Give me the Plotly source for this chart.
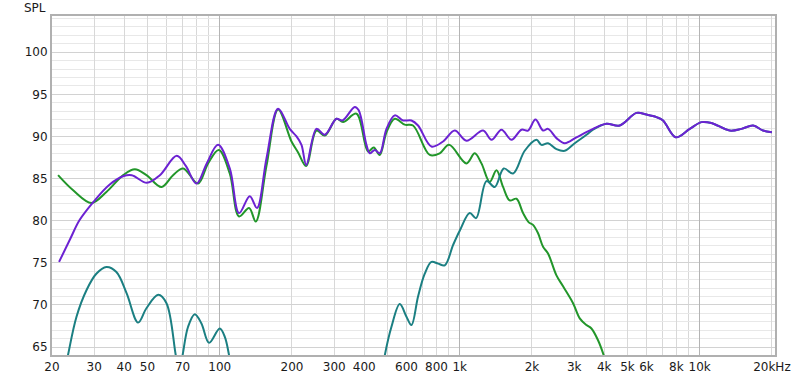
import math
import plotly.graph_objects as go

# ---- data (frequency in Hz, level in dB SPL) ----
sum_freq = [21.4, 23.7, 26.1, 29.9, 34.8, 39.8, 43.0, 49.7, 56.3, 66.2, 72.2, 80.0, 88.3, 98.4,
            110.1, 120.4, 133.4, 143.0, 156.6, 175.1, 195.8, 208.9, 219.1, 229.4, 253.0, 274.0,
            306.5, 324.7, 365.3, 379.5, 408.7, 421.9, 442.6, 464.4, 495.3, 536.3, 580.6, 629.3,
            670.6, 762.6, 852.4, 953.5, 1067, 1251, 1357, 1493, 1643, 1809, 1927, 2068, 2225,
            2334, 2530, 2740, 3065, 3594, 4087, 4643, 5452, 6000, 6604, 7037, 7948, 9090, 10170,
            11190, 13340, 14930, 16690, 18360, 20000]
sum_db = [75.1, 77.7, 80.1, 82.3, 84.3, 85.3, 85.4, 84.5, 85.4, 87.7, 86.5, 84.4, 86.8, 89.0,
          86.2, 80.9, 82.9, 81.5, 87.4, 93.3, 90.9, 90.0, 89.0, 86.6, 90.9, 90.2,
          92.1, 91.9, 93.5, 93.1, 89.0, 88.0, 88.4, 88.0, 90.9, 92.5, 91.9, 91.9,
          91.3, 88.8, 89.4, 90.7, 89.5, 90.7, 89.6, 90.8, 89.6, 90.8, 90.7, 92.0, 90.7,
          90.9, 89.8, 89.2, 89.9, 90.9, 91.5, 91.3, 92.8, 92.6, 92.3, 91.9, 89.9, 90.9, 91.7,
          91.6, 90.7, 90.9, 91.3, 90.7, 90.5]

woofer_freq = [21.2, 24.5, 29.2, 33.7, 39.6, 44.3, 49.5, 57.2, 63.9, 70.4, 81.2, 89.4, 99.1,
               110.1, 120.4, 132.5, 141.3, 156.6, 175.1, 199.1, 212.1, 229.0, 253.0, 274.0,
               306.5, 326.6, 371.3, 415.1, 438.4, 464.4, 495.3, 536.3, 590.2, 639.1, 750.3,
               825.6, 902.8, 1067, 1155, 1232, 1334, 1423, 1516, 1616, 1724, 1836, 1940, 2021,
               2121, 2225, 2334, 2530, 2696, 2967, 3164, 3375, 3539, 3771, 3984, 4220]
woofer_db = [85.4, 83.6, 82.1, 83.4, 85.4, 86.1, 85.4, 84.0, 85.4, 86.2, 84.4, 86.8, 88.4,
             85.6, 80.5, 81.5, 79.9, 86.5, 93.2, 89.4, 88.1, 86.5, 90.7, 90.1,
             92.1, 91.7, 92.7, 88.2, 88.7, 87.8, 90.5, 92.1, 91.4, 91.3, 87.8,
             88.0, 89.0, 86.8, 88.0, 86.8, 84.6, 86.0, 84.0, 82.4, 82.6, 80.9, 79.8, 79.5,
             78.5, 76.9, 76.1, 73.5, 72.2, 70.2, 68.4, 67.6, 67.2, 65.8, 64.0, 61.5]

tweeter_freq = [22.2, 23.3, 25.3, 27.9, 30.6, 33.7, 37.1, 40.9, 45.7, 49.5, 55.4, 60.0, 65.6,
                67.8, 70.0, 73.8, 78.7, 83.9, 90.3, 100.0, 105.0, 109.4, 113.3, None,
                468.8, 487.2, 519.5, 562.6, 600.0, 629.3, 670.6, 715.1, 762.6, 812.4, 866.5,
                938.2, 1000, 1101, 1170, 1293, 1400, 1526, 1669, 1866, 2088, 2191, 2334, 2530,
                2740, 3015, 3375, 3594, 4087, 4643, 5452, 6000, 6604, 7037, 7948, 9090, 10170,
                11190, 13340, 14930, 16690, 18360, 20000]
tweeter_db = [61.0, 64.0, 68.6, 71.8, 73.7, 74.5, 73.9, 71.4, 67.9, 69.6, 71.2, 70.2, 64.0,
              62.0, 64.0, 67.4, 68.9, 67.8, 65.5, 67.2, 66.2, 64.0, 61.5, None,
              61.0, 64.0, 67.4, 70.1, 68.6, 67.6, 71.0, 73.7, 75.1, 74.9, 74.7,
              77.1, 78.8, 80.9, 80.3, 84.7, 84.0, 86.2, 85.6, 88.3, 89.6, 89.0, 89.2, 88.5,
              88.3, 89.2, 90.2, 90.8, 91.5, 91.3, 92.8, 92.6, 92.3, 91.9, 89.9, 90.9, 91.7,
              91.6, 90.7, 90.9, 91.3, 90.7, 90.5]

x_tickvals = [20, 30, 40, 50, 70, 100, 200, 300, 400, 600, 800, 1000, 2000, 3000, 4000,
              5000, 6000, 8000, 10000, 20000]
x_ticktext = ["20", "30", "40", "50", "70", "100", "200", "300", "400", "600", "800", "1k",
              "2k", "3k", "4k", "5k", "6k", "8k", "10k", "20kHz"]
x_minor_vals = [60, 80, 90, 500, 700, 900, 7000, 9000]
x_decades = [100, 1000, 10000]
y_tickvals = [65, 70, 75, 80, 85, 90, 95, 100]

COL_SUM = "#6c22d2"
COL_WOOF = "#22962a"
COL_TWEET = "#1b7f82"

fig = go.Figure()
fig.add_trace(go.Scatter(x=woofer_freq, y=woofer_db, mode="lines",
                         line=dict(color=COL_WOOF, width=2, shape="spline", smoothing=1),
                         hoverinfo="skip", showlegend=False))
fig.add_trace(go.Scatter(x=tweeter_freq, y=tweeter_db, mode="lines", connectgaps=False,
                         line=dict(color=COL_TWEET, width=2, shape="spline", smoothing=1),
                         hoverinfo="skip", showlegend=False))
fig.add_trace(go.Scatter(x=sum_freq, y=sum_db, mode="lines",
                         line=dict(color=COL_SUM, width=2, shape="spline", smoothing=1),
                         hoverinfo="skip", showlegend=False))
# invisible trace to activate the decade-grid overlay axis
fig.add_trace(go.Scatter(x=[1000], y=[None], xaxis="x2", mode="lines",
                         showlegend=False, hoverinfo="skip"))

xr = [math.log10(20), math.log10(20600)]

fig.update_layout(
    width=800, height=379,
    margin=dict(l=52, r=25, t=16, b=24),
    paper_bgcolor="white", plot_bgcolor="white",
    font=dict(family="DejaVu Sans", size=12, color="#1a1a1a"),
    xaxis=dict(type="log", range=xr, tickmode="array", tickvals=x_tickvals,
               ticktext=x_ticktext, showgrid=True, gridcolor="#d8d8d8", gridwidth=1,
               ticks="", zeroline=False, showline=True, mirror=True,
               linecolor="#b0b0b0", linewidth=2, automargin=False,
               minor=dict(tickmode="array", tickvals=x_minor_vals, showgrid=True,
                          gridcolor="#d8d8d8", gridwidth=1, ticks="")),
    xaxis2=dict(type="log", range=xr, overlaying="x", tickmode="array",
                tickvals=x_decades, showticklabels=False, showgrid=True,
                gridcolor="#b4b4b4", gridwidth=1, ticks="", zeroline=False),
    yaxis=dict(range=[64.05, 104.3], tickmode="array", tickvals=y_tickvals,
               showgrid=True, gridcolor="#d2d2d2", gridwidth=1, ticks="",
               zeroline=False, showline=True, mirror=True, linecolor="#b0b0b0",
               linewidth=2, automargin=False,
               minor=dict(dtick=1, showgrid=True, gridcolor="#e8e8e8", gridwidth=1,
                          ticks="")),
    annotations=[dict(text="SPL", xref="paper", yref="paper", x=0, y=1,
                      xanchor="right", yanchor="bottom", xshift=-4, yshift=-1,
                      showarrow=False, font=dict(size=12, color="#1a1a1a"))],
)

fig.write_html("out.html", config={"displayModeBar": False},
               post_script="document.body.style.margin='0';")
